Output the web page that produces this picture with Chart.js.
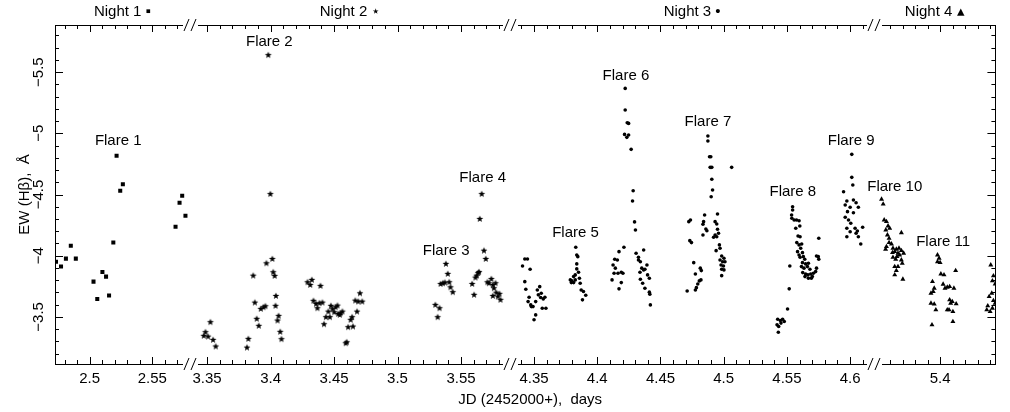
<!DOCTYPE html>
<html>
<head>
<meta charset="utf-8">
<script src="https://cdn.jsdelivr.net/npm/chart.js@4.4.1/dist/chart.umd.min.js"></script>
<style>
  html, body { margin: 0; padding: 0; background: #fff; }
  canvas { display: block; }
</style>
</head>
<body>
<canvas id="ewChart" width="1010" height="412"></canvas>
<script>
// Night 1 (squares)
const night1JD = [2.4732, 2.4772, 2.4811, 2.4850, 2.4890, 2.5031, 2.5061, 2.5102, 2.5131,
  2.5155, 2.5189, 2.5215, 2.5244, 2.5265, 2.5685, 2.5717, 2.5738, 2.5764];
const night1EW = [-3.951, -3.911, -3.976, -4.082, -3.976, -3.788, -3.647, -3.867, -3.829,
  -3.674, -4.107, -4.817, -4.531, -4.583, -4.237, -4.433, -4.490, -4.327];

// Night 2 (stars)
const night2JD = [
  3.3526, 3.3487, 3.3474, 3.3508, 3.3547, 3.3568,
  3.3825, 3.3814, 3.3863, 3.3876, 3.3891, 3.3907, 3.3923, 3.3944, 3.3959, 3.3967, 3.3982, 3.3998,
  3.4014, 3.4021, 3.4032, 3.4042, 3.4039, 3.4063, 3.4055, 3.4076, 3.4086,
  3.4291, 3.4325, 3.4312, 3.4393, 3.4338, 3.4358, 3.4369, 3.4385, 3.4408, 3.4421, 3.4436, 3.4455,
  3.4475, 3.4488, 3.4502, 3.4512, 3.4527, 3.4467, 3.4533, 3.4551, 3.4566, 3.4545, 3.4592, 3.4600,
  3.4611, 3.4631, 3.4649, 3.4642, 3.4681, 3.4667, 3.4691, 3.4722, 3.4704,
  3.5298, 3.5331, 3.5316, 3.5381, 3.5396, 3.5339, 3.5358, 3.5373, 3.5407, 3.5417, 3.5435,
  3.5648, 3.5663, 3.5681, 3.5695, 3.5588, 3.5603, 3.5614, 3.5624, 3.5635, 3.5642, 3.5708,
  3.5720, 3.5739, 3.5751, 3.5772, 3.5759, 3.5778, 3.5751, 3.5790, 3.5803, 3.5811];
const night2EW = [
  -3.457, -3.375, -3.345, -3.339, -3.312, -3.258,
  -3.320, -3.249, -3.837, -3.617, -3.484, -3.427, -3.565, -3.579, -3.587, -3.938, -5.639, -4.504,
  -3.973, -3.865, -3.835, -3.671, -3.590, -3.508, -3.470, -3.378, -3.318,
  -3.783, -3.802, -3.761, -3.753, -3.631, -3.606, -3.571, -3.612, -3.617, -3.440, -3.498, -3.543,
  -3.590, -3.563, -3.538, -3.579, -3.592, -3.498, -3.524, -3.530, -3.543, -3.516, -3.285, -3.293,
  -3.416, -3.476, -3.421, -3.498, -3.543, -3.633, -3.625, -3.625, -3.693,
  -3.598, -3.571, -3.498, -3.933, -3.851, -3.769, -3.775, -3.780, -3.783, -3.742, -3.702,
  -4.300, -4.504, -4.041, -3.973, -3.769, -3.680, -3.821, -3.837, -3.859, -3.867, -3.783,
  -3.775, -3.810, -3.761, -3.775, -3.734, -3.698, -3.671, -3.666, -3.688, -3.639];

// Night 3 (dots)
const night3JD = [
  4.3427, 4.3448, 4.3409, 4.3469, 4.3427, 4.3435, 4.3545, 4.3526, 4.3461, 4.3453, 4.3474, 4.3492,
  4.3479, 4.3513, 4.3534, 4.3557, 4.3573, 4.3586, 4.3565, 4.3594, 4.3513, 4.3500, 4.3552,
  4.3830, 4.3838, 4.3846, 4.3838, 4.3852, 4.3826, 4.3813, 4.3859, 4.3787, 4.3799, 4.3865, 4.3795,
  4.3813, 4.3873, 4.3891, 4.3909, 4.3883, 4.3838, 4.3826,
  4.4221, 4.4221, 4.4237, 4.4248, 4.4216, 4.4248, 4.4234, 4.4268, 4.4284, 4.4279, 4.4295, 4.4302,
  4.4211, 4.4172, 4.4138, 4.4159, 4.4125, 4.4143, 4.4133, 4.4164, 4.4190, 4.4203, 4.4117, 4.4190, 4.4172,
  4.4307, 4.4326, 4.4367, 4.4326, 4.4341, 4.4393, 4.4352, 4.4367, 4.4377, 4.4338, 4.4398, 4.4412,
  4.4341, 4.4359, 4.4377, 4.4412, 4.4416, 4.4420,
  4.4737, 4.4724, 4.4732, 4.4745, 4.4763, 4.4711, 4.4776, 4.4815, 4.4823, 4.4807, 4.4795, 4.4784,
  4.4776, 4.4820, 4.4849, 4.4841, 4.4836, 4.4859, 4.4867, 4.4836,
  4.4875, 4.4875, 4.4888, 4.4898, 4.4893, 4.4906, 4.4906, 4.4912, 4.4901, 4.5063, 4.4951, 4.4932,
  4.4945, 4.4951, 4.4959, 4.4932, 4.4920, 4.4945, 4.4966, 4.4971, 4.4940, 4.4984, 4.5002, 4.4971,
  4.4992, 4.5010, 4.4979, 4.4998, 4.4984, 4.5002, 4.4984,
  4.5427, 4.5448, 4.5466, 4.5479, 4.5453, 4.5422, 4.5435, 4.5432, 4.5505, 4.5518, 4.5523, 4.5545,
  4.5545, 4.5537, 4.5539, 4.5557, 4.5576, 4.5596, 4.5570, 4.5602, 4.5588, 4.5604, 4.5578, 4.5596,
  4.5617, 4.5609, 4.5584, 4.5623, 4.5596, 4.5604, 4.5630, 4.5641, 4.5623, 4.5648, 4.5670, 4.5615,
  4.5635, 4.5662, 4.5682, 4.5625, 4.5648, 4.5666, 4.5688, 4.5709, 4.5727, 4.5643, 4.5670, 4.5693,
  4.5701, 4.5734, 4.5748, 4.5752, 4.5752, 4.5734,
  4.6013, 4.6013, 4.6021, 4.5948, 4.5974, 4.6026, 4.6047, 4.5961, 4.6000, 4.6065, 4.5979, 4.6026,
  4.5961, 4.5987, 4.6005, 4.5974, 4.6039, 4.6057, 4.6099, 4.6000, 4.6047, 4.5974, 4.6065, 4.6084];
const night3EW = [
  -3.973, -3.973, -3.916, -3.889, -3.788, -3.726, -3.747, -3.720, -3.661, -3.625, -3.598, -3.584,
  -3.584, -3.625, -3.680, -3.693, -3.647, -3.661, -3.571, -3.571, -3.516, -3.476, -3.658,
  -4.069, -4.006, -3.992, -3.933, -3.865, -3.843, -3.829, -3.816, -3.802, -3.794, -3.775, -3.780,
  -3.780, -3.720, -3.707, -3.677, -3.639, -3.892, -3.802,
  -5.367, -5.190, -5.086, -5.081, -4.991, -4.986, -4.967, -4.869, -4.531, -4.447, -4.276, -4.210,
  -4.069, -4.033, -3.971, -3.965, -3.924, -3.898, -3.857, -3.857, -3.865, -3.857, -3.802, -3.780, -3.729,
  -4.020, -3.987, -4.047, -3.965, -3.951, -3.924, -3.898, -3.884, -3.889, -3.865, -3.843, -3.816,
  -3.808, -3.775, -3.734, -3.702, -3.685, -3.598,
  -4.292, -4.278, -4.123, -4.107, -3.943, -3.712, -3.851, -3.898, -3.878, -3.794, -3.769, -3.739,
  -3.720, -3.802, -4.333, -4.278, -4.257, -4.218, -4.204, -4.169,
  -4.978, -4.937, -4.809, -4.809, -4.722, -4.722, -4.624, -4.537, -4.482, -4.722, -4.341, -4.278,
  -4.259, -4.216, -4.183, -4.169, -4.151, -4.155, -4.088, -4.061, -4.041, -3.998, -3.979, -3.965,
  -3.951, -3.951, -3.924, -3.916, -3.889, -3.884, -3.837,
  -3.481, -3.470, -3.481, -3.462, -3.449, -3.435, -3.421, -3.375, -3.565, -3.729, -3.916, -4.400,
  -4.373, -4.333, -4.306, -4.292, -4.292, -4.286, -4.224, -4.243, -4.161, -4.155, -4.107, -4.088,
  -4.096, -4.061, -4.033, -4.025, -4.006, -3.987, -3.992, -3.971, -3.943, -3.933, -3.938, -3.911,
  -3.898, -3.911, -3.889, -3.862, -3.851, -3.843, -3.851, -3.857, -3.870, -3.829, -3.816, -3.816,
  -3.829, -3.898, -3.992, -3.971, -4.142, -3.998,
  -4.828, -4.640, -4.578, -4.523, -4.447, -4.455, -4.433, -4.414, -4.396, -4.396, -4.360, -4.351,
  -4.314, -4.292, -4.265, -4.224, -4.224, -4.202, -4.232, -4.196, -4.183, -4.155, -4.155, -4.096];

// Night 4 (triangles)
const night4JD = [
  5.3533, 5.3546, 5.3554, 5.3572, 5.3585, 5.3567, 5.3598, 5.3691, 5.3580, 5.3593, 5.3593, 5.3612,
  5.3572, 5.3624, 5.3565, 5.3651, 5.3672, 5.3691, 5.3620, 5.3638, 5.3664, 5.3709, 5.3624, 5.3656,
  5.3677, 5.3691, 5.3646, 5.3698, 5.3638, 5.3664, 5.3651, 5.3638, 5.3703,
  5.3979, 5.3992, 5.4000, 5.3979, 5.4124, 5.4006, 5.4031, 5.3939, 5.4024, 5.4039, 5.4057, 5.4076,
  5.3953, 5.3927, 5.4110, 5.3945, 5.4076, 5.4084, 5.4097, 5.4128, 5.3927, 5.3953, 5.3966, 5.4057,
  5.4071, 5.4102, 5.3935, 5.4102,
  5.4404, 5.4425, 5.4417, 5.4439, 5.4412, 5.4391, 5.4425, 5.4439, 5.4380, 5.4372, 5.4399, 5.4417];
const night4EW = [
  -4.461, -4.422, -4.292, -4.278, -4.243, -4.210, -4.224, -4.188, -4.169, -4.142, -4.107, -4.096,
  -4.074, -4.061, -4.053, -4.053, -4.061, -4.041, -4.025, -4.033, -4.020, -4.020, -3.987, -3.992,
  -4.006, -3.965, -3.971, -3.938, -3.911, -3.911, -3.878, -3.843, -3.808,
  -4.006, -3.979, -3.943, -3.951, -3.878, -3.851, -3.843, -3.788, -3.767, -3.734, -3.742, -3.747,
  -3.734, -3.693, -3.734, -3.707, -3.639, -3.612, -3.625, -3.606, -3.612, -3.604, -3.557, -3.557,
  -3.557, -3.543, -3.435, -3.462,
  -3.924, -3.835, -3.794, -3.769, -3.693, -3.666, -3.633, -3.612, -3.590, -3.557, -3.543, -3.571];

// flare annotations (anchored in data units)
const flareNames = ['Flare 1', 'Flare 2', 'Flare 3', 'Flare 4', 'Flare 5', 'Flare 6',
  'Flare 7', 'Flare 8', 'Flare 9', 'Flare 10', 'Flare 11'];
const flareAxis = ['x1', 'x2', 'x2', 'x2', 'x3', 'x3', 'x3', 'x3', 'x3', 'x4', 'x4'];
const flareJD = [2.5228, 3.3990, 3.5383, 3.5671, 4.3828, 4.4227, 4.4875, 4.5547, 4.6008, 5.3638, 5.4024];
const flareEW = [-4.937, -5.745, -4.041, -4.635, -4.186, -5.470, -5.094, -4.523, -4.939, -4.564, -4.115];

// tick labels
const nightLabels = ['Night 1 \u25aa', 'Night 2 \u22c6', 'Night 3 \u2022', 'Night 4 \u25b4'];
const x1Labels = [2.5, 2.55];
const x2Labels = [3.35, 3.4, 3.45, 3.5, 3.55];
const x3Labels = [4.35, 4.4, 4.45, 4.5, 4.55, 4.6];
const x4Labels = [5.4];
const yLabels = [-5.5, -5, -4.5, -4, -3.5];

function steps(a, b, d) {
  const out = [];
  for (let v = a; v <= b + d / 2; v += d) out.push(Math.round(v * 1000) / 1000);
  return out;
}
const yMinor = steps(-5.8, -3.2, 0.1);

const segments = [
  { id: 'x1', top: 't1', min: 2.4724, max: 2.5799, weight: 136.5, major: x1Labels, minor: steps(2.48, 2.57, 0.01) },
  { id: 'x2', top: 't2', min: 3.3364, max: 3.5889, weight: 324.5, major: x2Labels, minor: steps(3.35, 3.58, 0.01) },
  { id: 'x3', top: 't3', min: 4.3313, max: 4.6188, weight: 368, major: x3Labels, minor: steps(4.34, 4.61, 0.01) },
  { id: 'x4', top: 't4', min: 5.3472, max: 5.4441, weight: 123, major: x4Labels, minor: steps(5.36, 5.44, 0.01) }
];

const isMajor = (v, list) => list.some(m => Math.abs(m - v) < 1e-6);
const pts = (xs, ys) => xs.map((x, i) => ({ x: x, y: ys[i] }));

function starImage(r) {
  const c = document.createElement('canvas');
  const s = Math.ceil(r * 2) + 2;
  c.width = s; c.height = s;
  const g = c.getContext('2d');
  g.fillStyle = '#000';
  g.beginPath();
  for (let k = 0; k < 10; k++) {
    const rr = k % 2 ? r * 0.42 : r;
    const a = -Math.PI / 2 + k * Math.PI / 5;
    g.lineTo(s / 2 + rr * Math.cos(a), s / 2 + rr * Math.sin(a));
  }
  g.closePath();
  g.fill();
  return c;
}

const FONT = '"Liberation Sans", Arial, sans-serif';
Chart.defaults.font.family = FONT;
Chart.defaults.font.size = 15;
Chart.defaults.color = '#000';

const yMin = -5.885, yMax = -3.115;

const scales = {
  y: {
    type: 'linear', position: 'left', reverse: true, min: yMin, max: yMax,
    grid: { display: false, drawTicks: false },
    border: { color: '#000' },
    ticks: {
      color: '#000', minRotation: 90, maxRotation: 90, crossAlign: 'center', padding: 1, autoSkip: false,
      callback: v => String(v).replace('-', '\u2212')
    },
    afterBuildTicks: s => { s.ticks = yLabels.map(v => ({ value: v })); },
    afterFit: s => { s.width = 55; },
    title: { display: true, text: 'EW (H\u03b2),  \u00c5', color: '#000', padding: { top: 16, bottom: 0 } }
  },
  y2: {
    type: 'linear', position: 'right', reverse: true, min: yMin, max: yMax,
    grid: { display: false, drawTicks: false },
    border: { color: '#000' },
    ticks: { display: false },
    afterFit: s => { s.width = 3; }
  }
};

segments.forEach((seg, i) => {
  scales[seg.id] = {
    type: 'linear', axis: 'x', position: 'bottom', stack: 'jd', stackWeight: seg.weight,
    min: seg.min, max: seg.max,
    grid: { display: false, drawTicks: false },
    border: { color: '#000' },
    ticks: { color: '#000', padding: 6, minRotation: 0, maxRotation: 0, autoSkip: false, callback: v => String(v) },
    afterBuildTicks: s => { s.ticks = seg.major.map(v => ({ value: v })); },
    afterFit: s => { s.height = 48; }
  };
  // top boxes are laid out in reverse, so the layout weight keeps Night 1 on the left
  scales[seg.top] = {
    type: 'linear', axis: 'x', position: 'top', stack: 'night', stackWeight: seg.weight,
    weight: segments.length - i,
    min: seg.min, max: seg.max,
    grid: { display: false, drawTicks: false },
    border: { color: '#000' },
    ticks: { display: false },
    title: { display: true, text: nightLabels[i], color: '#000', padding: { top: 3, bottom: 0 } },
    afterFit: s => { s.height = 25; }
  };
});

// inward ticks, axis breaks, flare labels and the x title
const frameExtras = {
  id: 'frameExtras',
  afterDraw(chart) {
    const { ctx, chartArea: a } = chart;
    const sc = chart.scales;
    ctx.save();
    ctx.strokeStyle = '#000';
    ctx.lineWidth = 1;
    ctx.beginPath();
    segments.forEach(seg => {
      seg.minor.forEach(v => {
        const x = Math.round(sc[seg.id].getPixelForValue(v)) + 0.5;
        const len = isMajor(v, seg.major) ? 7 : 4;
        ctx.moveTo(x, a.bottom); ctx.lineTo(x, a.bottom - len);
        ctx.moveTo(x, a.top); ctx.lineTo(x, a.top + len);
      });
    });
    yMinor.forEach(v => {
      const y = Math.round(sc.y.getPixelForValue(v)) + 0.5;
      const len = isMajor(v, yLabels) ? 8 : 4;
      ctx.moveTo(a.left, y); ctx.lineTo(a.left + len, y);
      ctx.moveTo(a.right, y); ctx.lineTo(a.right - len, y);
    });
    ctx.stroke();

    for (let i = 0; i < segments.length - 1; i++) {
      const bx = Math.round(sc[segments[i].id].right);
      [a.top, a.bottom].forEach(y => {
        ctx.fillStyle = '#fff';
        ctx.fillRect(bx - 7, y - 2, 15, 4);
        ctx.beginPath();
        ctx.moveTo(bx - 6, y + 6); ctx.lineTo(bx - 1, y - 6);
        ctx.moveTo(bx + 1, y + 6); ctx.lineTo(bx + 6, y - 6);
        ctx.stroke();
      });
    }

    ctx.fillStyle = '#000';
    ctx.font = '15px ' + FONT;
    ctx.textAlign = 'center';
    ctx.textBaseline = 'middle';
    flareNames.forEach((t, i) => {
      ctx.fillText(t, sc[flareAxis[i]].getPixelForValue(flareJD[i]), sc.y.getPixelForValue(flareEW[i]));
    });
    ctx.fillText('JD (2452000+),  days', (a.left + a.right) / 2 + 5, 400);
    ctx.restore();
  }
};

const common = { yAxisID: 'y', backgroundColor: '#000', borderColor: '#000', borderWidth: 0, pointHoverRadius: 0 };

new Chart(document.getElementById('ewChart'), {
  type: 'scatter',
  data: {
    datasets: [
      Object.assign({ label: 'Night 1', data: pts(night1JD, night1EW), xAxisID: 'x1', pointStyle: 'rect', pointRadius: 2.85 }, common),
      Object.assign({ label: 'Night 2', data: pts(night2JD, night2EW), xAxisID: 'x2', pointStyle: starImage(3.6), pointRadius: 3.5 }, common),
      Object.assign({ label: 'Night 3', data: pts(night3JD, night3EW), xAxisID: 'x3', pointStyle: 'circle', pointRadius: 1.8 }, common),
      Object.assign({ label: 'Night 4', data: pts(night4JD, night4EW), xAxisID: 'x4', pointStyle: 'triangle', pointRadius: 2.9 }, common)
    ]
  },
  options: {
    responsive: false,
    devicePixelRatio: 1,
    animation: false,
    events: [],
    layout: { padding: 0 },
    plugins: { legend: { display: false }, tooltip: { enabled: false } },
    scales: scales
  },
  plugins: [frameExtras]
});
</script>
</body>
</html>
